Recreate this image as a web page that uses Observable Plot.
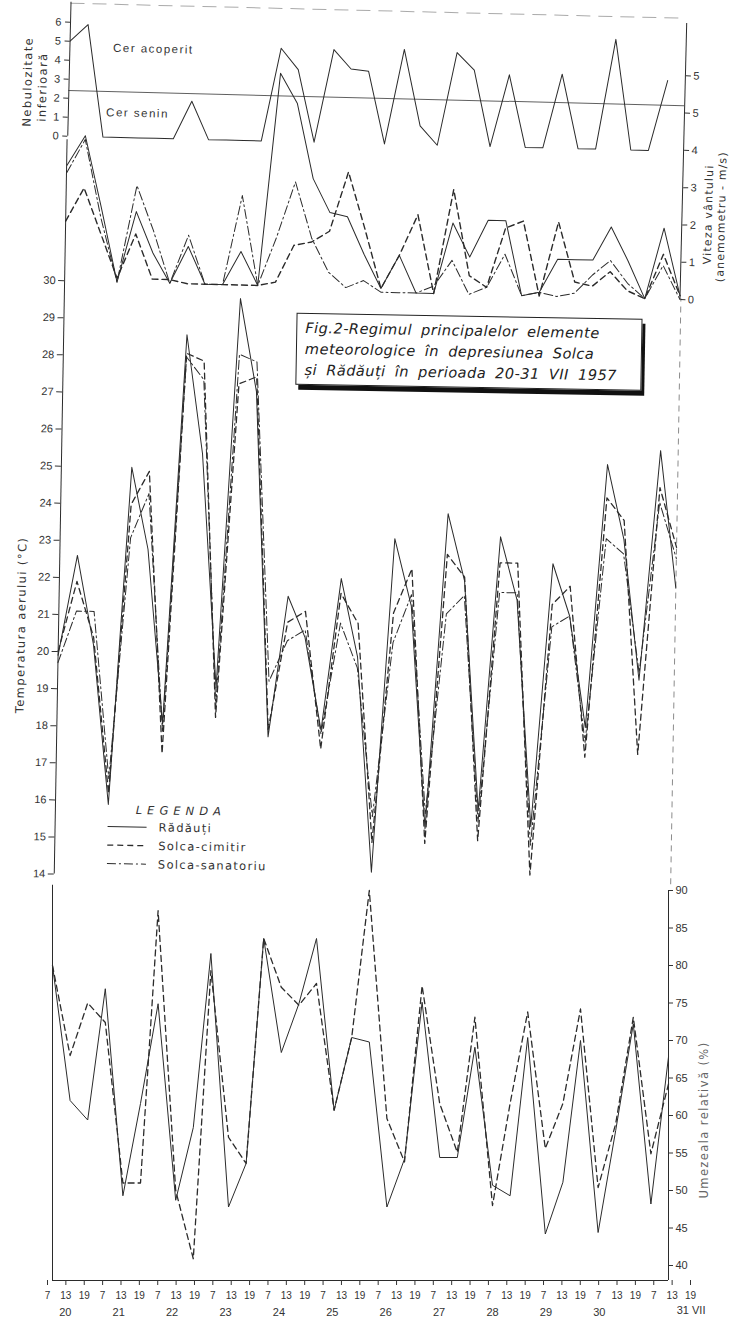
<!DOCTYPE html>
<html><head><meta charset="utf-8">
<script src="https://cdn.jsdelivr.net/npm/d3@7"></script>
<script src="https://cdn.jsdelivr.net/npm/@observablehq/plot@0.6"></script>
<style>
body{margin:0;background:#fff;}
#chart{position:relative;width:733px;height:1326px;overflow:hidden;font-family:"Liberation Sans",sans-serif;color:#333;background:#fff;}
.wrap{position:absolute;left:0;top:0;width:733px;}
.vlab{position:absolute;transform:translate(-50%,-50%) rotate(-90deg);white-space:nowrap;font-family:"DejaVu Sans",sans-serif;font-size:11.5px;letter-spacing:1.4px;color:#333;}
#titleBox{position:absolute;left:292px;top:314px;width:346px;height:72px;border:1.5px solid #222;box-shadow:3px 5px 0 #111;box-sizing:border-box;padding:4px 0 0 8px;font-family:"DejaVu Sans",sans-serif;font-style:italic;font-size:14.5px;line-height:21px;letter-spacing:0.5px;word-spacing:4px;white-space:nowrap;color:#222;background:#fff;}
</style></head><body><div id="chart"></div>
<script>
// ---------- data ----------
const hours = [7, 13, 19];
const days = [20, 21, 22, 23, 24, 25, 26, 27, 28, 29, 30, 31];
const hourTickLabels = days.flatMap(() => hours.map(String));
const dayLabels = ["20", "21", "22", "23", "24", "25", "26", "27", "28", "29", "30", "31 VII"];
const stations = ["Rădăuți", "Solca-cimitir", "Solca-sanatoriu"];

// lower cloudiness (Rădăuți)
const nebulozitate = [5.0,5.9,0,0,0,0, 0,2.0,0,0,0,0, 4.9,3.8,0,4.9,3.9,3.8, 0,5.0,1.0,0,4.9,4.0, 0,3.8,0,0,3.9,0, 0,5.8,0,0,3.7,null];
const nebLimit = 2.4;
const nebTicks = [0, 1, 2, 3, 4, 5, 6];

// wind speed (m/s)
const windRadauti   = [3.2,4.0,2.1,0.1,2.0,0.9, 0.1,1.1,0.1,0.1,1.0,0.1, 5.8,5.0,3.0,2.1,2.0,1.0, 0.1,1.0,0,0,1.9,1.0, 2.0,2.0,0,0.1,1.0,1.0, 1.0,1.9,1.0,0,1.9,0.1];
const windCimitir   = [1.7,2.6,1.4,0.2,1.4,0.2, 0.2,0.1,0.1,0.1,0.1,0.1, 0.2,1.2,1.3,1.6,3.2,1.7, 0.1,1.0,2.1,0,2.8,0.5, 0.2,1.8,2.0,0,2.0,0.4, 0.3,0.7,0.2,0,1.2,0.1];
const windSanatoriu = [3.0,3.9,1.8,0.1,2.7,1.5, 0.1,1.4,0.1,0.1,2.5,0.1, 1.4,2.9,1.4,0.5,0.1,0.3, 0,0,0,0.2,0.9,0, 0.2,1.1,0,0.1,0,0.1, 0.6,1.0,0.4,0,0.9,0];
const windTicks = [0, 1, 2, 3, 4, 5, 6];
const windTickLabels = ["0", "1", "2", "3", "4", "5", "5"];

// air temperature (°C)
const tempRadauti   = [19.9,22.6,20.2,15.9,25.0,22.8, 18.1,28.6,25.4,19.1,29.6,27.1, 17.8,21.6,20.5,18.0,22.1,20.0, 14.2,23.2,21.4,15.4,23.9,22.1, 15.9,23.3,21.6,15.5,22.6,21.2, 18.2,25.3,23.3,19.5,25.7,22.0];
const tempCimitir   = [20.0,21.9,20.4,16.2,24.0,24.9, 17.3,28.1,27.9,18.3,27.3,27.5, 18.0,20.9,21.2,17.5,21.7,20.9, 15.0,21.2,22.4,15.0,22.8,22.2, 15.1,22.6,22.6,14.2,21.5,22.0, 17.4,24.4,23.8,17.5,24.7,23.1];
const tempSanatoriu = [19.7,21.1,21.1,16.6,23.1,24.3, 17.9,28.0,27.4,18.6,28.1,27.9, 19.3,20.4,20.7,17.9,20.9,19.7, 15.7,20.4,21.7,15.8,21.2,21.7, 15.6,21.8,21.8,15.0,20.9,21.2, 17.8,23.3,22.9,19.7,24.3,22.8];
const tempTicks = d3.range(14, 31);

// relative humidity (%)
const humRadauti = [80,62,59.4,76.9,49.3,61.6, 74.9,48.7,58.4,81.6,47.8,53.6, 83.6,68.4,74.9,83.6,60.7,70.4, 69.8,47.8,54.2,75.1,54.4,54.4, 69.1,50.7,49.3,70.4,44.2,51.1, 70.0,44.4,58.0,72.2,48.2,67.8];
const humCimitir = [80,68,75,72.4,51,51, 87.3,50,40.9,79.3,57.1,53.6, 83.6,77.1,74.7,77.6,60.7,70.4, 90,59.6,53.8,77.3,61.6,55.1, 73.1,48,61.6,73.8,55.6,61.6, 74.2,50.4,58.9,73.1,54.9,64.2];
const humTicks = d3.range(40, 91, 5);

const titleLines = ["Fig.2-Regimul principalelor elemente", "meteorologice în depresiunea Solca", "și Rădăuți în perioada 20-31 VII 1957"];

// ---------- helpers ----------
const ink = "#2b2b2b";
const dashCim = "6,4";
const dashSan = "9,3,2,3";
const rows = values => values.map((v, i) => ({i, v})).filter(d => d.v != null);
const chart = document.getElementById("chart");
function place(svg, parent, top) {
  svg.style.position = "absolute";
  svg.style.left = "0px";
  svg.style.top = top + "px";
  svg.style.background = "transparent";
  svg.style.overflow = "visible";
  svg.style.maxWidth = "none";
  svg.setAttribute("font-family", "Liberation Sans, sans-serif");
  svg.setAttribute("fill", "#333");
  parent.appendChild(svg);
  return svg;
}
function vlabel(parent, text, cx, cy, extra) {
  const d = document.createElement("div");
  d.className = "vlab";
  d.textContent = text;
  d.style.left = cx + "px";
  d.style.top = cy + "px";
  if (extra) Object.assign(d.style, extra);
  parent.appendChild(d);
}

// ---------- top panel: cloudiness + wind (slightly tilted like the scan) ----------
const topWrap = document.createElement("div");
topWrap.className = "wrap";
topWrap.style.height = "320px";
topWrap.style.transform = "rotate(1.4deg)";
topWrap.style.transformOrigin = "366px 150px";
chart.appendChild(topWrap);

const nebSvg = Plot.plot({
  width: 733, height: 170, marginLeft: 67, marginRight: 50, marginTop: 29, marginBottom: 27,
  x: {domain: [0, 35], axis: null},
  y: {domain: [0, 6], label: null},
  marks: [
    Plot.axisY(nebTicks, {anchor: "left", tickSize: 5, tickPadding: 4, fontSize: 11, label: null}),
    Plot.ruleX([0], {y1: 0, y2: 7.05, stroke: ink}),
    Plot.ruleY([7], {stroke: ink, strokeOpacity: 0.4, strokeDasharray: "14,8"}),
    Plot.ruleY([nebLimit], {stroke: ink, strokeOpacity: 0.75}),
    Plot.line(rows(nebulozitate), {x: "i", y: "v", stroke: ink, strokeWidth: 1}),
    Plot.text(["Cer acoperit"], {x: 2.45, y: 4.7, textAnchor: "start", fontSize: 11.5, fill: "#333"}),
    Plot.text(["Cer senin"], {x: 2.15, y: 1.3, textAnchor: "start", fontSize: 11.5, fill: "#333"})
  ]
});
place(nebSvg, topWrap, 0);
d3.select(nebSvg).selectAll("g[aria-label='text'] text").style("letter-spacing", "1.5px");

const windSvg = Plot.plot({
  width: 733, height: 320, marginLeft: 67, marginRight: 50, marginTop: 67.5, marginBottom: 28.7,
  x: {domain: [0, 35], axis: null},
  y: {domain: [0, 6], label: null},
  marks: [
    Plot.axisY(windTicks, {anchor: "right", tickSize: 5, tickPadding: 3, fontSize: 11, label: null, tickFormat: d => windTickLabels[d]}),
    Plot.ruleX([35], {y1: 0, y2: 7.4, stroke: ink}),
    Plot.line(rows(windRadauti), {x: "i", y: "v", stroke: ink, strokeWidth: 1}),
    Plot.line(rows(windCimitir), {x: "i", y: "v", stroke: ink, strokeWidth: 1.4, strokeDasharray: dashCim}),
    Plot.line(rows(windSanatoriu), {x: "i", y: "v", stroke: ink, strokeWidth: 1, strokeDasharray: dashSan})
  ]
});
place(windSvg, topWrap, 0);

vlabel(topWrap, "Nebulozitate", 26, 90);
vlabel(topWrap, "inferioară", 40.5, 95);
vlabel(topWrap, "Viteza vântului", 710, 206, {fontSize: "11px", letterSpacing: "1.2px"});
vlabel(topWrap, "(anemometru - m/s)", 723, 208, {fontSize: "11px", letterSpacing: "1.1px"});

// ---------- temperature panel ----------
const tempWrap = document.createElement("div");
tempWrap.className = "wrap";
tempWrap.style.height = "900px";
tempWrap.style.transform = "rotate(1deg)";
tempWrap.style.transformOrigin = "366px 576px";
chart.appendChild(tempWrap);

const tempSvg = Plot.plot({
  width: 733, height: 900, marginLeft: 59, marginRight: 57.5, marginTop: 285.5, marginBottom: 21,
  x: {domain: [0, 35], axis: null},
  y: {domain: [14, 30], label: null},
  marks: [
    Plot.axisY(tempTicks, {anchor: "left", tickSize: 6, tickPadding: 3, fontSize: 11, label: null}),
    Plot.ruleX([0], {y1: 14, y2: 33.8, stroke: ink}),
    Plot.ruleX([35], {y1: 14, y2: 29.8, stroke: ink, strokeOpacity: 0.55, strokeDasharray: "6,5"}),
    Plot.line(rows(tempRadauti), {x: "i", y: "v", stroke: ink, strokeWidth: 1}),
    Plot.line(rows(tempCimitir), {x: "i", y: "v", stroke: ink, strokeWidth: 1.3, strokeDasharray: dashCim}),
    Plot.line(rows(tempSanatoriu), {x: "i", y: "v", stroke: ink, strokeWidth: 1, strokeDasharray: dashSan})
  ]
});
place(tempSvg, tempWrap, 0);
vlabel(tempWrap, "Temperatura aerului (°C)", 22, 631);

// title box
const tb = document.createElement("div");
tb.id = "titleBox";
tb.innerHTML = titleLines.map(t => `<div>${t}</div>`).join("");
tempWrap.appendChild(tb);

// legend
const leg = d3.select(tempWrap).append("svg")
  .attr("width", 230).attr("height", 90)
  .style("position", "absolute").style("left", "100px").style("top", "800px")
  .attr("font-family", "DejaVu Sans, sans-serif").attr("font-size", 11.5).attr("fill", "#333");
leg.append("text").attr("x", 85).attr("y", 18).attr("text-anchor", "middle")
  .attr("font-style", "italic").style("letter-spacing", "5px").text("LEGENDA");
const dashes = [null, dashCim, dashSan];
stations.forEach((s, k) => {
  const y = 31 + k * 18.5;
  leg.append("line").attr("x1", 12).attr("x2", 51).attr("y1", y).attr("y2", y)
    .attr("stroke", ink).attr("stroke-width", k === 1 ? 1.3 : 1)
    .attr("stroke-dasharray", dashes[k]);
  leg.append("text").attr("x", 63).attr("y", y + 4).style("letter-spacing", "1.3px").text(s);
});

// ---------- humidity panel ----------
const humSvg = Plot.plot({
  width: 733, height: 430, marginLeft: 52, marginRight: 65, marginTop: 30, marginBottom: 25,
  x: {domain: [0, 35], axis: null},
  y: {domain: [40, 90], label: null},
  marks: [
    Plot.axisY(humTicks, {anchor: "right", tickSize: 4, tickPadding: 3, fontSize: 11, label: null}),
    Plot.ruleX([0], {y1: 38, y2: 90.7, stroke: ink}),
    Plot.ruleX([35], {y1: 38, y2: 90, stroke: ink}),
    Plot.ruleY([38], {stroke: ink}),
    Plot.line(rows(humRadauti), {x: "i", y: "v", stroke: ink, strokeWidth: 1}),
    Plot.line(rows(humCimitir), {x: "i", y: "v", stroke: ink, strokeWidth: 1.3, strokeDasharray: dashCim})
  ]
});
place(humSvg, chart, 860);
vlabel(chart, "Umezeala relativă (%)", 704, 1120, {color: "#666"});

// ---------- bottom time axis ----------
const axisSvg = Plot.plot({
  width: 733, height: 64, marginLeft: 47, marginRight: 43, marginTop: 0, marginBottom: 46,
  x: {domain: [0, 35]},
  marks: [
    Plot.axisX(d3.range(36), {tickSize: 5, tickPadding: 6, fontSize: 10, label: null, tickFormat: i => hourTickLabels[i]})
  ]
});
place(axisSvg, chart, 1262);

const daySvg = Plot.plot({
  width: 733, height: 64, marginLeft: 47, marginRight: 63, marginTop: 0, marginBottom: 46,
  x: {domain: [0, 35]},
  marks: [
    Plot.axisX(d3.range(1, 33, 3), {tickSize: 0, tickPadding: 28, fontSize: 11, label: null, tickFormat: i => dayLabels[(i - 1) / 3]}),
    Plot.text([dayLabels[11]], {x: 34, frameAnchor: "bottom", dy: 33, dx: 24, textAnchor: "start", fontSize: 11, fill: "#333"})
  ]
});
place(daySvg, chart, 1262);
</script></body></html>
